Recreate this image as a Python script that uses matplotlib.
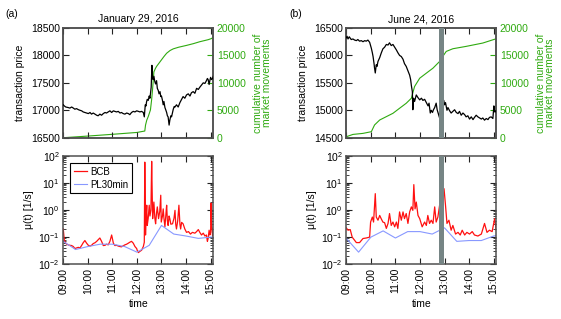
import matplotlib
matplotlib.use('Agg')
import matplotlib.pyplot as plt
import numpy as np
from matplotlib.ticker import FixedLocator, LogLocator, NullFormatter

plt.rcParams['font.family'] = ['Liberation Sans', 'DejaVu Sans']
plt.rcParams['mathtext.default'] = 'regular'
plt.rcParams['font.size'] = 7.5

# --- data (time in decimal hours) ---
# (a) January 29, 2016 : transaction price
t_pa = [9.00, 9.04, 9.10, 9.20, 9.27, 9.34, 9.41, 9.47, 9.54, 9.62, 9.68, 9.75, 9.81, 9.88, 9.95,
        10.02, 10.09, 10.15, 10.22, 10.29, 10.36, 10.42, 10.49, 10.56, 10.63, 10.70, 10.76, 10.83,
        10.90, 10.97, 11.04, 11.10, 11.17, 11.24, 11.31, 11.37, 11.44, 11.51, 11.58, 11.65, 11.71,
        11.78, 11.85, 11.92, 11.99, 12.06, 12.12, 12.19, 12.26, 12.30, 12.32, 12.34, 12.37, 12.39,
        12.42, 12.46, 12.50, 12.53, 12.55, 12.58, 12.61, 12.63, 12.66, 12.69, 12.73, 12.76, 12.80,
        12.83, 12.87, 12.90, 12.94, 12.97, 13.00, 13.04, 13.07, 13.10, 13.14, 13.18, 13.21, 13.24,
        13.27, 13.31, 13.34, 13.38, 13.41, 13.45, 13.48, 13.52, 13.55, 13.61, 13.68, 13.75, 13.82,
        13.88, 13.95, 14.02, 14.09, 14.16, 14.22, 14.29, 14.36, 14.43, 14.50, 14.56, 14.63, 14.70,
        14.77, 14.83, 14.87, 14.90, 14.94, 14.97, 15.00, 15.04, 15.08, 15.11]
p_pa = [17100, 17080, 17060, 17050, 17040, 17060, 17040, 17020, 17030, 17010, 17000, 16990, 16970,
        16960, 16950, 16940, 16960, 16930, 16950, 16930, 16910, 16900, 16930, 16910, 16940, 16960,
        16950, 16970, 16990, 16960, 16990, 16980, 16970, 16980, 16950, 16960, 16940, 16930, 16950,
        16940, 16920, 16960, 16980, 16970, 16990, 16980, 16970, 16980, 16960, 16880, 16990, 17100,
        17080, 17150, 17200, 17180, 17260, 17220, 17300, 17420, 17820, 17600, 17560, 17620, 17520,
        17480, 17540, 17400, 17360, 17300, 17340, 17250, 17260, 17180, 17100, 17160, 17050, 17000,
        16960, 16900, 16880, 16730, 16820, 16900, 16880, 16960, 17020, 17070, 17060, 17100, 17060,
        17140, 17200, 17250, 17220, 17280, 17300, 17260, 17320, 17340, 17310, 17400, 17380, 17420,
        17460, 17500, 17490, 17540, 17580, 17560, 17470, 17540, 17600, 17560, 17580, 17620]
# (a) cumulative number of market movements
t_ca = [9.00, 10.00, 11.00, 12.00, 12.32, 12.35, 12.40, 12.46, 12.55, 12.60, 12.64, 12.69, 12.75,
        12.80, 12.90, 13.00, 13.10, 13.21, 13.35, 13.48, 13.70, 14.02, 14.30, 14.56, 14.90, 15.05, 15.11]
c_ca = [0, 300, 620, 960, 1220, 2300, 3200, 3850, 5060, 7000, 9000, 12000, 12600,
        13000, 13600, 14200, 14800, 15400, 15900, 16200, 16500, 16830, 17150, 17500, 17870, 18100, 18450]
# (a) intensity mu(t): BCB estimate
t_ma = [9.00, 9.04, 9.10, 9.14, 9.20, 9.27, 9.34, 9.41, 9.47, 9.54,
        9.61, 9.68, 9.75, 9.81, 9.88, 9.95, 10.02, 10.09, 10.15, 10.22,
        10.29, 10.36, 10.42, 10.49, 10.56, 10.63, 10.70, 10.76, 10.83, 10.90,
        10.97, 11.04, 11.10, 11.17, 11.24, 11.31, 11.37, 11.44, 11.51, 11.58,
        11.65, 11.71, 11.78, 11.85, 11.92, 11.99, 12.01, 12.06, 12.12, 12.19,
        12.26, 12.30, 12.32, 12.35, 12.37, 12.40, 12.42, 12.46, 12.50, 12.53,
        12.57, 12.60, 12.62, 12.64, 12.66, 12.69, 12.73, 12.76, 12.80, 12.83,
        12.88, 12.93, 12.97, 12.99, 13.04, 13.07, 13.10, 13.14, 13.18, 13.21,
        13.24, 13.27, 13.31, 13.34, 13.38, 13.45, 13.51, 13.55, 13.58, 13.61,
        13.66, 13.71, 13.75, 13.78, 13.82, 13.88, 13.95, 14.02, 14.10, 14.18,
        14.26, 14.36, 14.43, 14.50, 14.56, 14.63, 14.70, 14.77, 14.83, 14.87,
        14.90, 14.94, 14.97, 15.00, 15.02, 15.04, 15.08, 15.11]
m_ma = [0.2, 0.08, 0.06, 0.055, 0.052, 0.05, 0.049, 0.045, 0.038, 0.04,
        0.042, 0.04, 0.05, 0.062, 0.075, 0.06, 0.05, 0.047, 0.05, 0.058,
        0.062, 0.07, 0.08, 0.093, 0.07, 0.049, 0.05, 0.055, 0.052, 0.07,
        0.12, 0.06, 0.049, 0.05, 0.047, 0.045, 0.044, 0.048, 0.052, 0.055,
        0.06, 0.065, 0.07, 0.06, 0.045, 0.038, 0.033, 0.027, 0.03, 0.033,
        0.045, 0.065, 58.0, 0.12, 0.5, 1.5, 0.27, 0.5, 1.5, 0.6,
        1.0, 62.0, 5.0, 0.48, 0.9, 1.96, 0.5, 0.31, 0.8, 1.3,
        0.48, 0.9, 3.5, 0.36, 0.6, 1.1, 0.5, 0.24, 0.7, 1.5,
        0.4, 0.27, 0.6, 0.48, 0.3, 0.31, 0.5, 0.97, 0.3, 0.2,
        0.4, 1.5, 0.3, 0.2, 0.35, 0.31, 0.2, 0.15, 0.16, 0.13,
        0.15, 0.14, 0.16, 0.19, 0.15, 0.12, 0.14, 0.11, 0.12, 0.07,
        0.09, 0.18, 0.12, 0.15, 1.8, 0.3, 0.11, 0.21]
# (a) intensity mu(t): PL30min estimate
t_la = [9.00, 9.50, 10.00, 10.50, 11.00, 11.50, 12.00, 12.50, 13.00, 13.50, 14.00, 14.50, 15.00, 15.11]
m_la = [0.07, 0.035, 0.045, 0.055, 0.055, 0.045, 0.028, 0.05, 0.27, 0.13, 0.11, 0.09, 0.1, 0.1]

# (b) June 24, 2016 : transaction price
t_pb = [9.00, 9.03, 9.07, 9.12, 9.20, 9.27, 9.34, 9.41, 9.47, 9.54, 9.61, 9.68, 9.75, 9.81, 9.88,
        9.95, 10.02, 10.06, 10.09, 10.13, 10.15, 10.18, 10.22, 10.25, 10.29, 10.36, 10.42, 10.49,
        10.56, 10.63, 10.70, 10.76, 10.83, 10.90, 10.97, 11.04, 11.10, 11.17, 11.24, 11.31, 11.37,
        11.44, 11.51, 11.58, 11.62, 11.65, 11.69, 11.71, 11.74, 11.78, 11.85, 11.92, 11.99, 12.06,
        12.12, 12.19, 12.26, 12.33, 12.37, 12.42, 12.46, 12.51, 12.55, 12.60, 12.66, 12.70, 12.74,
        12.80, 12.93, 12.97, 13.00, 13.04, 13.10, 13.14, 13.21, 13.27, 13.34, 13.41, 13.48, 13.55,
        13.61, 13.68, 13.75, 13.82, 13.88, 13.95, 14.02, 14.09, 14.16, 14.22, 14.29, 14.36, 14.43,
        14.50, 14.56, 14.63, 14.70, 14.77, 14.83, 14.90, 14.97, 15.01, 15.04, 15.08, 15.11]
p_pb = [16320, 16350, 16300, 16340, 16290, 16300, 16280, 16270, 16290, 16260, 16270, 16250, 16270,
        16260, 16280, 16240, 16130, 16050, 15980, 15850, 15770, 15680, 15830, 15800, 15890, 15960,
        16040, 16120, 16150, 16200, 16190, 16230, 16180, 16200, 16150, 16100, 16050, 16000, 15980,
        15930, 15850, 15800, 15720, 15640, 15560, 15450, 15340, 15010, 15220, 15160, 15280, 15230,
        15190, 15220, 15180, 15200, 15140, 15080, 15130, 14950, 15000, 14960, 15010, 15050, 15130,
        15010, 14950, 14860, 15040, 15180, 15100, 15140, 15000, 15050, 14990, 14950, 14980, 15010,
        14960, 14940, 14980, 14910, 14950, 14920, 14880, 14900, 14840, 14880, 14830, 14870, 14910,
        14880, 14860, 14840, 14860, 14820, 14850, 14830, 14870, 14880, 14850, 15080, 14970, 14990, 14960]
# (b) cumulative number of market movements
t_cb = [9.00, 9.27, 9.68, 10.02, 10.15, 10.36, 10.63, 10.90, 11.17, 11.44, 11.65, 11.78, 11.99,
        12.26, 12.53, 12.80, 12.93, 13.07, 13.34, 13.88, 14.56, 15.11]
c_cb = [180, 600, 790, 1100, 2320, 3230, 3840, 4450, 5370, 6280, 7200, 9330, 10850, 11770, 12680,
        13900, 14820, 15730, 16220, 16650, 17260, 18050]
# (b) intensity mu(t): BCB estimate
t_mb = [9.00, 9.07, 9.16, 9.24, 9.41, 9.54, 9.68, 9.81, 9.95, 9.99,
        10.06, 10.11, 10.18, 10.22, 10.29, 10.36, 10.42, 10.49, 10.56, 10.63,
        10.70, 10.76, 10.83, 10.90, 10.97, 11.04, 11.10, 11.17, 11.24, 11.31,
        11.37, 11.44, 11.51, 11.58, 11.65, 11.71, 11.75, 11.80, 11.85, 11.92,
        11.99, 12.09, 12.19, 12.26, 12.32, 12.39, 12.46, 12.53, 12.60, 12.66,
        12.73, 12.80, 12.98, 13.04, 13.10, 13.18, 13.27, 13.34, 13.45, 13.55,
        13.64, 13.72, 13.82, 13.91, 14.02, 14.13, 14.22, 14.36, 14.50, 14.63,
        14.73, 14.83, 14.94, 15.04, 15.11]
m_mb = [0.22, 0.18, 0.19, 0.1, 0.063, 0.063, 0.089, 0.093, 0.1, 0.36,
        0.55, 0.36, 4.0, 0.55, 0.42, 0.63, 0.48, 0.36, 0.34, 0.21,
        0.32, 0.74, 0.27, 0.36, 0.24, 0.36, 0.21, 0.85, 0.42, 0.85,
        0.48, 0.74, 0.32, 0.85, 1.3, 0.97, 8.6, 1.1, 1.96, 0.63,
        0.48, 0.24, 0.36, 0.27, 0.63, 0.32, 0.42, 0.32, 1.3, 0.36,
        0.55, 1.5, 6.1, 1.5, 0.32, 0.42, 0.18, 0.27, 0.13, 0.15,
        0.12, 0.18, 0.12, 0.15, 0.13, 0.16, 0.12, 0.11, 0.13, 0.32,
        0.15, 0.18, 0.16, 0.48, 0.18]
# (b) intensity mu(t): PL30min estimate
t_lb = [9.00, 9.50, 10.00, 10.50, 11.00, 11.50, 12.00, 12.50, 13.00, 13.50, 14.00, 14.50, 15.00, 15.11]
m_lb = [0.09, 0.028, 0.1, 0.17, 0.093, 0.16, 0.16, 0.13, 0.22, 0.07, 0.075, 0.075, 0.11, 0.115]

hours = [9, 10, 11, 12, 13, 14, 15]
hour_labels = ['09:00', '10:00', '11:00', '12:00', '13:00', '14:00', '15:00']
bar_b = (12.79, 12.96)

green = '#2faa10'
red = '#ff1010'
blue = '#8898ff'
frame = '#505050'
barcol = '#768585'

fig = plt.figure(figsize=(5.61, 3.19), dpi=100)


def frame_style(ax):
    for s in ax.spines.values():
        s.set_color(frame)
        s.set_linewidth(1.1)
    ax.set_xlim(9, 15.11)
    ax.xaxis.set_major_locator(FixedLocator(hours))
    ax.tick_params(direction='in', length=4, width=0.8, top=True, color='#222222',
                   labelsize=7.5, pad=2.5)


def top_panel(left, tp, pp, tc, cc, ylim, title, bar=None):
    ax = fig.add_axes([left, 0.5683, 0.2674, 0.3439])
    frame_style(ax)
    ax.plot(tp, pp, color='black', lw=0.9, zorder=3)
    ax.set_ylim(*ylim)
    ax.set_yticks(np.arange(ylim[0], ylim[1] + 1, 500))
    ax.set_xticklabels([])
    ax.set_ylabel('transaction price', labelpad=4)
    ax.set_title(title, fontsize=7.5, pad=4)
    ax2 = ax.twinx()
    ax2.plot(tc, cc, color=green, lw=0.8)
    ax2.set_ylim(0, 20000)
    ax2.set_yticks([0, 5000, 10000, 15000, 20000])
    ax2.tick_params(axis='y', direction='in', length=4, colors=green, labelsize=7.5, pad=2.5)
    for s in ax2.spines.values():
        s.set_color(frame)
        s.set_linewidth(1.1)
    ax2.set_ylabel('cumulative number of\nmarket movements', color=green, linespacing=0.95, labelpad=5)
    ax.tick_params(axis='y', right=False)
    if bar:
        ax.axvspan(bar[0], bar[1], color=barcol, lw=0, zorder=4)
    ax.set_zorder(ax2.get_zorder() + 1)
    ax.patch.set_visible(False)
    return ax


def bottom_panel(left, tm, mm, tl, ml, bar=None, legend=False):
    ax = fig.add_axes([left, 0.1715, 0.2674, 0.3404])
    frame_style(ax)
    ax.plot(tm, mm, color=red, lw=0.9, label='BCB')
    ax.plot(tl, ml, color=blue, lw=0.8, label='PL30min')
    ax.set_yscale('log')
    ax.set_ylim(1e-2, 1e2)
    ax.yaxis.set_major_locator(LogLocator(base=10, numticks=10))
    ax.yaxis.set_minor_locator(LogLocator(base=10, subs=np.arange(2, 10), numticks=20))
    ax.yaxis.set_minor_formatter(NullFormatter())
    ax.tick_params(axis='y', which='both', right=True, direction='in', color='#222222')
    ax.tick_params(axis='y', which='minor', length=2)
    ax.set_xticks(hours)
    ax.set_xticklabels(hour_labels, rotation=90)
    ax.set_xlabel('time', labelpad=4)
    ax.set_ylabel('\u03bc(t) [1/s]', labelpad=3)
    if bar:
        ax.axvspan(bar[0], bar[1], color=barcol, lw=0, zorder=4)
    if legend:
        lg = ax.legend(loc='upper left', bbox_to_anchor=(0.045, 0.935), borderaxespad=0,
                       fancybox=False, framealpha=1, edgecolor='black', fontsize=7,
                       handlelength=1.3, handletextpad=0.4, borderpad=0.4, labelspacing=0.3)
        lg.get_frame().set_linewidth(0.8)
    return ax


top_panel(0.1128, t_pa, p_pa, t_ca, c_ca, (16500, 18500), 'January 29, 2016')
top_panel(0.6173, t_pb, p_pb, t_cb, c_cb, (14500, 16500), 'June 24, 2016', bar=bar_b)
bottom_panel(0.1128, t_ma, m_ma, t_la, m_la, legend=True)
bottom_panel(0.6173, t_mb, m_mb, t_lb, m_lb, bar=bar_b)

fig.text(0.009, 0.948, '(a)', fontsize=7.5)
fig.text(0.515, 0.948, '(b)', fontsize=7.5)

fig.savefig('out.png', dpi=100)
